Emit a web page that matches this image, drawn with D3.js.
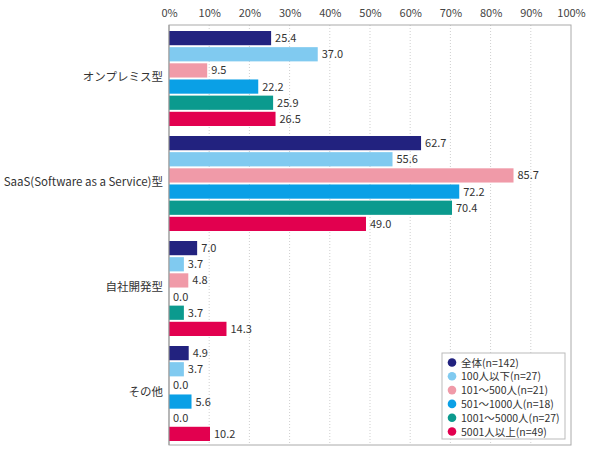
<!DOCTYPE html>
<html>
<head>
<meta charset="utf-8">
<script src="https://cdn.jsdelivr.net/npm/d3@7"></script>
<style>
  body { margin: 0; background: #fff; }
  svg { font-family: "Noto Sans CJK JP", "Noto Sans", sans-serif; }
</style>
</head>
<body>
<svg id="chart" width="590" height="458"></svg>
<script>
const categories = ["オンプレミス型", "SaaS(Software as a Service)型", "自社開発型", "その他"];
const seriesNames = ["全体(n=142)", "100人以下(n=27)", "101～500人(n=21)", "501～1000人(n=18)", "1001～5000人(n=27)", "5001人以上(n=49)"];
const colors = ["#22227f", "#80caf0", "#f09aa8", "#0aa0e6", "#0b9a8e", "#e2004f"];
// values per series, in category order
const zentai   = [25.4, 62.7, 7.0, 4.9];
const u100     = [37.0, 55.6, 3.7, 3.7];
const s101_500 = [9.5, 85.7, 4.8, 0.0];
const s501_1000 = [22.2, 72.2, 0.0, 5.6];
const s1001_5000 = [25.9, 70.4, 3.7, 0.0];
const o5001    = [26.5, 49.0, 14.3, 10.2];
const seriesValues = [zentai, u100, s101_500, s501_1000, s1001_5000, o5001];
const tickValues = [0, 10, 20, 30, 40, 50, 60, 70, 80, 90, 100];

const svg = d3.select("#chart");
const mLeft = 169, mRight = 571, mTop = 25, mBottom = 445;

const x = d3.scaleLinear().domain([0, 100]).range([mLeft, mRight]);
const y0 = d3.scaleBand().domain(categories).range([mTop, mBottom]);
const y1 = d3.scaleBand().domain(d3.range(seriesNames.length))
    .range([6, y0.bandwidth() - 4]).paddingInner(0.12);

// grid
svg.append("g").selectAll("line")
  .data(tickValues.slice(1, -1))
  .join("line")
    .attr("x1", d => x(d)).attr("x2", d => x(d))
    .attr("y1", mTop).attr("y2", mBottom)
    .attr("stroke", "#cfcfcf")
    .attr("stroke-dasharray", "1,2");

// frame
svg.append("rect")
    .attr("x", mLeft).attr("y", mTop)
    .attr("width", mRight - mLeft).attr("height", mBottom - mTop)
    .attr("fill", "none").attr("stroke", "#aaa");

// top axis
const xAxis = d3.axisTop(x).tickValues(tickValues).tickFormat(d => d + "%").tickSize(0).tickPadding(8);
svg.append("g")
    .attr("transform", `translate(0,${mTop})`)
    .call(xAxis)
    .call(g => g.select(".domain").remove())
    .call(g => g.selectAll("text").attr("fill", "#444").style("font-size", "11px")
      .style("font-family", "'Noto Sans CJK JP', sans-serif"));

// left category labels
const yAxis = d3.axisLeft(y0).tickSize(0).tickPadding(6);
svg.append("g")
    .attr("transform", `translate(${mLeft},0)`)
    .call(yAxis)
    .call(g => g.select(".domain").remove())
    .call(g => g.selectAll("text").attr("fill", "#333").style("font-size", "11.5px")
      .style("font-family", "'Noto Sans CJK JP', sans-serif"));

// bars
const groups = svg.append("g").selectAll("g")
  .data(categories)
  .join("g")
    .attr("transform", d => `translate(0,${y0(d)})`);

const cells = groups.selectAll("g")
  .data((c, ci) => seriesValues.map((vals, si) => ({ si, v: vals[ci] })))
  .join("g");

cells.append("rect")
    .attr("x", mLeft)
    .attr("y", d => y1(d.si))
    .attr("width", d => x(d.v) - mLeft)
    .attr("height", y1.bandwidth())
    .attr("fill", d => colors[d.si]);

cells.append("text")
    .attr("x", d => x(d.v) + 4)
    .attr("y", d => y1(d.si) + y1.bandwidth() / 2 + 4)
    .attr("fill", "#333")
    .style("font-size", "11px")
    .text(d => d.v.toFixed(1));

// left axis line on top
svg.append("line")
    .attr("x1", mLeft).attr("x2", mLeft).attr("y1", mTop).attr("y2", mBottom)
    .attr("stroke", "#999");

// legend
const lg = svg.append("g").attr("transform", "translate(442,353)");
lg.append("rect").attr("width", 123).attr("height", 86)
    .attr("fill", "#fff").attr("stroke", "#bbb");
const items = lg.selectAll("g.item")
  .data(seriesNames)
  .join("g").attr("class", "item")
    .attr("transform", (d, i) => `translate(10,${9.5 + i * 13.8})`);
items.append("circle").attr("r", 4.3).attr("fill", (d, i) => colors[i]);
items.append("text").attr("x", 9).attr("y", 4)
    .attr("fill", "#333").style("font-size", "10.5px")
    .text(d => d);
</script>
</body>
</html>
